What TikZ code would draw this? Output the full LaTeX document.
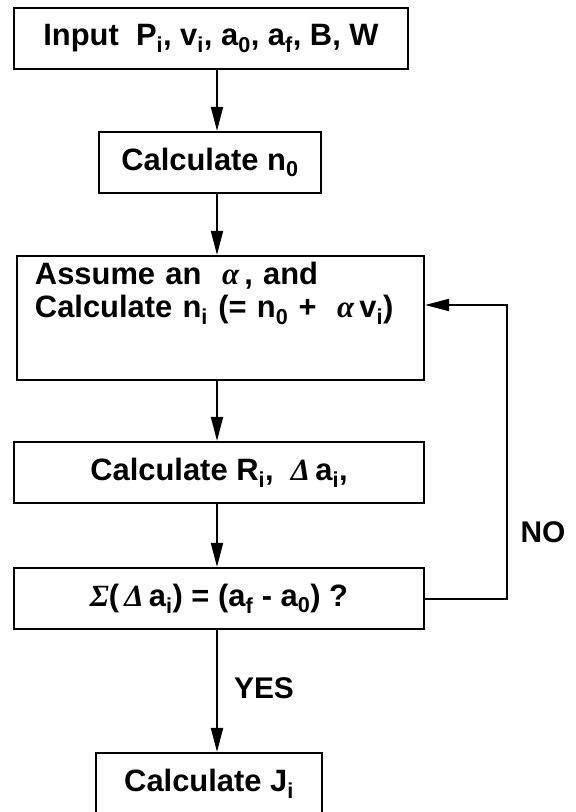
\documentclass[tikz,border=0pt]{standalone}
\usepackage{fontspec}
\setmainfont{Liberation Sans}
\newfontfamily\grkfont{Liberation Serif}
\usetikzlibrary{arrows.meta}
\newcommand{\gk}[1]{{\grkfont\bfseries\itshape #1}}
\newcommand{\sx}[1]{\textsubscript{#1}}

\begin{document}
\begin{tikzpicture}[
    x=1bp, y=-1bp,
    every node/.style={font=\bfseries\fontsize{31}{33}\selectfont},
    block/.style={draw, line width=2.2bp, inner sep=0pt, align=center},
    answer/.style={font=\bfseries\fontsize{30}{36}\selectfont},
    >={Triangle[length=24bp, width=12bp]}, line width=2bp,
  ]
  \useasboundingbox (0,0) rectangle (576,812);
  \clip (0,0) rectangle (576,812);
  \coordinate (mid) at (217,0);
  \coordinate (back) at (507,305);

  \node[block, minimum width=394bp, minimum height=61bp] (inp) at (211,38.5)
    {Input\ \ P\sx{i}, v\sx{i}, a\sx{0}, a\sx{f}, B, W};
  \node[block, minimum width=222bp, minimum height=61bp] (nzero) at (210,162.5)
    {Calculate n\sx{0}};
  \node[block, minimum width=407bp, minimum height=124bp,
        text width=371bp, align=left] (alpha) at (220.5,318)
    {Assume an \ \gk{α}\,, and\\
     Calculate n\sx{i} (= n\sx{0} + \ \gk{α}\,v\sx{i})\\[23bp]\mbox{}};
  \node[block, minimum width=410bp, minimum height=61bp] (rda) at (219,472.5)
    {Calculate R\sx{i}, \ \gk{Δ}\,a\sx{i},};
  \node[block, minimum width=410bp, minimum height=61bp] (test) at (219,598.5)
    {\gk{Σ}(\,\gk{Δ}\,a\sx{i}) = (a\sx{f} - a\sx{0}) ?};
  \node[block, minimum width=226bp, minimum height=62bp] (jay) at (209,784)
    {Calculate J\sx{i}};

  \node[answer] (no) at (543,532) {NO};
  \node[answer] (yes) at (264,688) {YES};

  \draw[->] (inp.south -| mid) -- (nzero.north -| mid);
  \draw[->] (nzero.south -| mid) -- (alpha.north -| mid);
  \draw[->] (alpha.south -| mid) -- (rda.north -| mid);
  \draw[->] (rda.south -| mid) -- (test.north -| mid);
  \draw[->] (test.south -| mid) -- (jay.north -| mid);
  \draw[->] (test.east) -| (back) -- (back -| alpha.east);
\end{tikzpicture}
\end{document}
